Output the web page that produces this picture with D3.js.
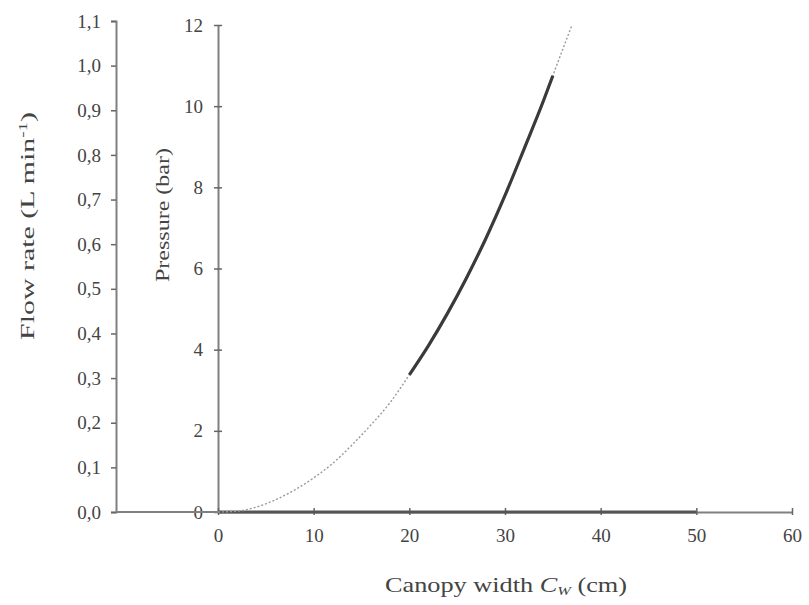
<!DOCTYPE html>
<html>
<head>
<meta charset="utf-8">
<script src="https://cdn.jsdelivr.net/npm/d3@7"></script>
<style>
  body { margin: 0; background: #fff; }
  text { font-family: "Liberation Serif", "DejaVu Serif", serif; fill: #444; }
</style>
</head>
<body>
<svg id="chart" width="809" height="605"></svg>
<script>
// canopy width (cm) and pressure (bar)
var widths    = [0, 2, 4, 6, 8, 10, 12, 14, 16, 18, 20, 22, 24, 26, 28, 30, 32, 34, 35, 36, 37];
var pressures = [0, 0.02, 0.12, 0.3, 0.54, 0.84, 1.2, 1.65, 2.15, 2.7, 3.38, 4.1, 4.9, 5.78, 6.74, 7.8, 8.95, 10.12, 10.75, 11.38, 12.0];
// working range drawn as the thick segment
var workRange = [20, 35];
// flow rate line lying on the x axis
var flowWidths = [0, 50];
var flowRates  = [0, 0];

var xTicks = [0, 10, 20, 30, 40, 50, 60];
var pTicks = [0, 2, 4, 6, 8, 10, 12];
var fTicks = [0, 0.1, 0.2, 0.3, 0.4, 0.5, 0.6, 0.7, 0.8, 0.9, 1.0, 1.1];

var svg = d3.select("#chart");

var x = d3.scaleLinear().domain([0, 60]).range([218, 792]);
var yP = d3.scaleLinear().domain([0, 12]).range([512, 25]);
var yF = d3.scaleLinear().domain([0, 1.1]).range([512, 21]);

var axisColor = "#808080";
var fmtComma = function (d) { return d3.format(".1f")(d).replace(".", ","); };

// flow rate axis (outer left)
var gF = svg.append("g").attr("transform", "translate(116,0)")
    .call(d3.axisLeft(yF).tickValues(fTicks).tickFormat(fmtComma).tickSize(5).tickPadding(10));

// pressure axis
var gP = svg.append("g").attr("transform", "translate(218,0)")
    .call(d3.axisLeft(yP).tickValues(pTicks).tickFormat(d3.format("d")).tickSize(0).tickPadding(15));
gP.selectAll(".tick").append("line").attr("x1", -4).attr("x2", 4);

// x axis
var gX = svg.append("g").attr("transform", "translate(0,512)")
    .call(d3.axisBottom(x).tickValues(xTicks).tickSize(0).tickPadding(17));
gX.selectAll(".tick").append("line").attr("y1", -4).attr("y2", 3);

// baseline joining the two y axes
svg.append("line")
    .attr("x1", 116).attr("x2", 218)
    .attr("y1", yF(0)).attr("y2", yF(0))
    .attr("stroke", axisColor).attr("stroke-width", 2);

[gF, gP, gX].forEach(function (g) {
    g.select(".domain").attr("stroke", axisColor).attr("stroke-width", 2);
    g.selectAll(".tick line").attr("stroke", "#666").attr("stroke-width", 1.5);
    g.selectAll(".tick text")
        .style("font-family", "'Liberation Serif', serif")
        .style("font-size", "19px")
        .attr("fill", "#555");
});

// curve data
var pts = widths.map(function (w, i) { return { w: w, p: pressures[i] }; });
var line = d3.line()
    .x(function (d) { return x(d.w); })
    .y(function (d) { return yP(d.p); })
    .curve(d3.curveMonotoneX);

// flow line on the baseline
var flowPts = flowWidths.map(function (w, i) { return { w: w, f: flowRates[i] }; });
svg.append("path")
    .datum(flowPts)
    .attr("d", d3.line().x(function (d) { return x(d.w); }).y(function (d) { return yF(d.f); }))
    .attr("fill", "none")
    .attr("stroke", "#555")
    .attr("stroke-width", 3);

// dotted extension over the whole range
svg.append("path")
    .datum(pts)
    .attr("d", line)
    .attr("fill", "none")
    .attr("stroke", "#999")
    .attr("stroke-width", 1.4)
    .attr("stroke-dasharray", "2,2");

// thick working range
svg.append("path")
    .datum(pts.filter(function (d) { return d.w >= workRange[0] && d.w <= workRange[1]; }))
    .attr("d", line)
    .attr("fill", "none")
    .attr("stroke", "#3a3a3a")
    .attr("stroke-width", 3.2);

// axis titles
svg.append("text")
    .attr("transform", "translate(34,226) rotate(-90)")
    .attr("text-anchor", "middle")
    .attr("textLength", 228)
    .attr("lengthAdjust", "spacingAndGlyphs")
    .style("font-size", "19px")
    .html('Flow rate  (L min<tspan dy="-7" font-size="12px">-1</tspan><tspan dy="7">)</tspan>');

svg.append("text")
    .attr("transform", "translate(169,215) rotate(-90)")
    .attr("text-anchor", "middle")
    .attr("textLength", 134)
    .attr("lengthAdjust", "spacingAndGlyphs")
    .style("font-size", "18px")
    .text("Pressure (bar)");

svg.append("text")
    .attr("x", 506).attr("y", 592)
    .attr("text-anchor", "middle")
    .attr("textLength", 242)
    .attr("lengthAdjust", "spacingAndGlyphs")
    .style("font-size", "21px")
    .html('Canopy width <tspan font-style="italic">C</tspan><tspan font-style="italic" font-size="13px" dy="3">W</tspan><tspan dy="-3"> (cm)</tspan>');
</script>
</body>
</html>
